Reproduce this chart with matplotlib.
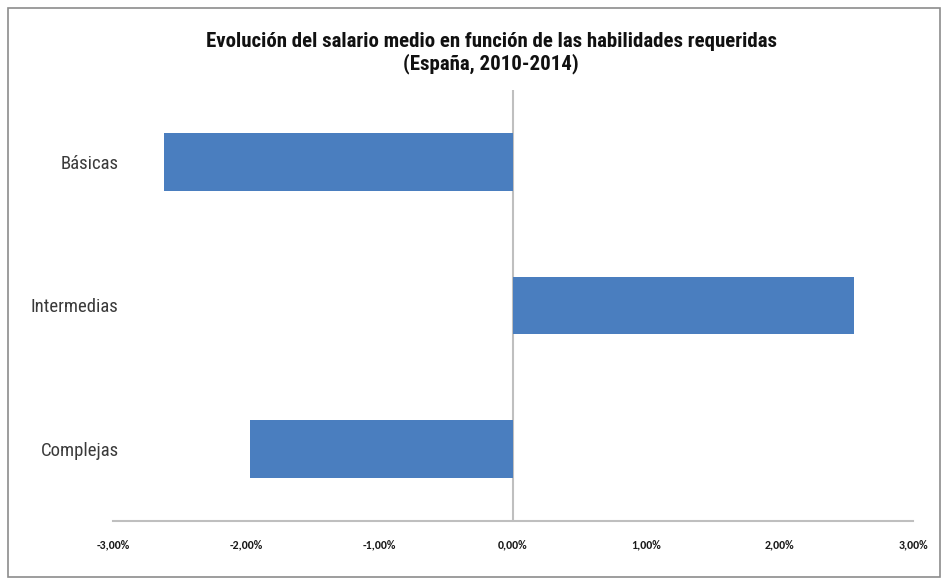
import matplotlib.pyplot as plt
from matplotlib.patches import Rectangle

# ---- Data (variación del salario medio, %) ----
categorias = ["Básicas", "Intermedias", "Complejas"]
variacion = [-2.62, 2.56, -1.97]
ticks = [-3, -2, -1, 0, 1, 2, 3]
tick_labels = ["-3,00%", "-2,00%", "-1,00%", "0,00%", "1,00%", "2,00%", "3,00%"]

narrow = ["Roboto Condensed", "Archivo Narrow", "DejaVu Sans"]
calibri = ["Carlito", "Open Sans", "DejaVu Sans"]

fig = plt.figure(figsize=(9.49, 5.85), dpi=100)
ax = fig.add_axes([113 / 949, 1 - 521 / 585, 800 / 949, 431 / 585])

ypos = list(range(len(categorias)))
ax.barh(ypos, variacion, height=0.4, color="#4a7ebf", zorder=2)
ax.set_ylim(len(categorias) - 0.5, -0.5)
ax.set_xlim(-3, 3)

ax.set_yticks(ypos)
ax.set_yticklabels(categorias, family=narrow, fontsize=13.5, color="#3a3a3a")
ax.set_xticks(ticks)
ax.set_xticklabels(tick_labels, family=calibri, fontsize=8.6, color="#1a1a1a",
                   fontweight="semibold")
ax.tick_params(axis="y", length=0, pad=-4)
ax.tick_params(axis="x", length=0, pad=13)

for s in ["top", "right", "left"]:
    ax.spines[s].set_visible(False)
ax.spines["bottom"].set_color("#bfbfbf")
ax.spines["bottom"].set_linewidth(1.5)
ax.axvline(0, color="#bfbfbf", linewidth=1.5, zorder=1)

fig.text(491 / 949, 1 - 53 / 585,
         "Evolución del salario medio en función de las habilidades requeridas\n(España, 2010-2014)",
         ha="center", va="center", family=narrow, fontsize=15, fontweight="bold",
         color="#111111", linespacing=1.2)

# marco exterior
fig.patches.append(Rectangle((8 / 949, 8 / 585), 932 / 949, 569 / 585,
                             transform=fig.transFigure, fill=False,
                             edgecolor="#8c8c8c", linewidth=1.2))

plt.savefig("out.png", dpi=100)
